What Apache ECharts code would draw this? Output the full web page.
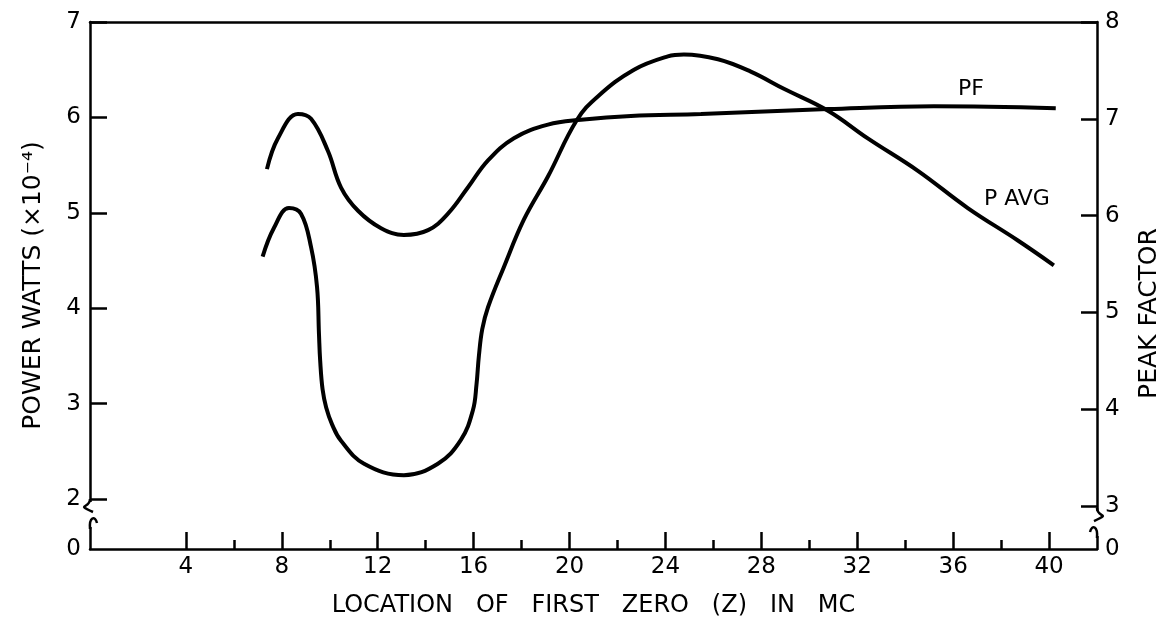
<!DOCTYPE html>
<html>
<head>
<meta charset="utf-8">
<script src="https://cdn.jsdelivr.net/npm/echarts@6/dist/echarts.min.js"></script>
<style>
html,body{margin:0;padding:0;background:#fff;}
#chart{width:1175px;height:623px;}
</style>
</head>
<body>
<div id="chart"></div>
<script>
// ---- data ----
const xMajorTicks = [4, 8, 12, 16, 20, 24, 28, 32, 36, 40];
const xMinorTicks = [6, 10, 14, 18, 22, 26, 30, 34, 38];
const leftTicks = [2, 3, 4, 5, 6, 7];
const rightTicks = [3, 4, 5, 6, 7, 8];
const breakLabel = '0';

const pavgX = [7.2, 7.67, 8.3, 8.8, 9.22, 9.47, 9.55, 9.6, 9.7, 9.85, 10.1, 10.47, 11.43, 13.09, 14.51, 15.47, 15.97, 16.12, 16.22, 16.36, 16.6, 17.26, 18.1, 19.1, 20.3, 21.18, 22.69, 24.1, 24.77, 26.19, 27.56, 28.94, 30.78, 32.44, 34.53, 36.61, 38.7, 40.2];
const pavgY = [4.54, 4.84, 5.05, 4.99, 4.64, 4.22, 3.73, 3.45, 3.15, 2.96, 2.78, 2.61, 2.37, 2.25, 2.37, 2.62, 2.93, 3.20, 3.50, 3.78, 4.01, 4.43, 4.93, 5.38, 5.97, 6.22, 6.50, 6.64, 6.66, 6.61, 6.48, 6.30, 6.07, 5.78, 5.44, 5.05, 4.71, 4.45];

const pfX = [7.38, 7.84, 8.67, 9.22, 9.92, 10.47, 11.18, 12.14, 13.09, 14.1, 14.93, 15.76, 16.6, 17.68, 19.1, 20.48, 22.56, 25.48, 30.78, 35.2, 40.28];
const pfY = [6.48, 6.80, 7.05, 7.00, 6.67, 6.29, 6.05, 5.87, 5.80, 5.85, 6.02, 6.29, 6.57, 6.80, 6.94, 6.99, 7.03, 7.05, 7.10, 7.13, 7.11];

// curve name labels, in data coordinates
const pfLabelAt = [36.74, 7.30];
const pavgLabelAt = [38.66, 5.14];

// axis extents (the lower part of each value axis is a broken "0" region)
const X_MIN = 0, X_MAX = 42;
const LEFT_MIN = 1.476, LEFT_MAX = 7;
const RIGHT_MIN = 2.556, RIGHT_MAX = 8;

// ---- chart ----
const FONT = 'DejaVu Sans';
const BLACK = '#000';
const chart = echarts.init(document.getElementById('chart'), null, {renderer: 'canvas'});

const labelStyle = {color: BLACK, fontFamily: FONT, fontSize: 23};
const lineStyle = {color: BLACK, width: 2.5};

const option = {
  animation: false,
  backgroundColor: '#fff',
  grid: {left: 90, right: 78, top: 22, bottom: 74, containLabel: false},
  xAxis: [
    {
      type: 'value', position: 'bottom', min: X_MIN, max: X_MAX,
      name: 'LOCATION   OF   FIRST   ZERO   (Z)   IN   MC',
      nameLocation: 'middle', nameGap: 45,
      nameTextStyle: {color: BLACK, fontFamily: FONT, fontSize: 24},
      axisLine: {show: true, onZero: false, lineStyle: lineStyle},
      axisTick: {show: true, inside: true, length: 17, lineStyle: lineStyle, customValues: xMajorTicks},
      axisLabel: Object.assign({show: true, margin: 7, customValues: xMajorTicks}, labelStyle),
      splitLine: {show: false}
    },
    {
      type: 'value', position: 'bottom', min: X_MIN, max: X_MAX,
      axisLine: {show: false, onZero: false},
      axisTick: {show: true, inside: true, length: 9, lineStyle: lineStyle, customValues: xMinorTicks},
      axisLabel: {show: false},
      splitLine: {show: false}
    },
    {
      type: 'value', position: 'top', min: X_MIN, max: X_MAX,
      axisLine: {show: true, onZero: false, lineStyle: lineStyle},
      axisTick: {show: false}, axisLabel: {show: false}, splitLine: {show: false}
    }
  ],
  yAxis: [
    {
      type: 'value', position: 'left', min: LEFT_MIN, max: LEFT_MAX,
      name: 'POWER WATTS (×10⁻⁴)',
      nameLocation: 'middle', nameGap: 44, nameRotate: 90,
      nameTextStyle: {color: BLACK, fontFamily: FONT, fontSize: 25},
      axisLine: {show: true, onZero: false, lineStyle: lineStyle},
      axisTick: {show: true, inside: true, length: 17, lineStyle: lineStyle, customValues: leftTicks},
      axisLabel: Object.assign({show: true, margin: 9, customValues: [LEFT_MIN].concat(leftTicks),
        formatter: v => (v < leftTicks[0] ? breakLabel : String(v))}, labelStyle),
      splitLine: {show: false}
    },
    {
      type: 'value', position: 'right', min: RIGHT_MIN, max: RIGHT_MAX,
      name: 'PEAK FACTOR',
      nameLocation: 'middle', nameGap: 40, nameRotate: 90,
      nameTextStyle: {color: BLACK, fontFamily: FONT, fontSize: 25, padding: [0, 56, 0, 0]},
      axisLine: {show: true, onZero: false, lineStyle: lineStyle},
      axisTick: {show: true, inside: true, length: 16, lineStyle: lineStyle, customValues: rightTicks},
      axisLabel: Object.assign({show: true, margin: 8, customValues: [RIGHT_MIN].concat(rightTicks),
        formatter: v => (v < rightTicks[0] ? breakLabel : String(v))}, labelStyle),
      splitLine: {show: false}
    }
  ],
  series: [
    {
      name: 'P AVG', type: 'line', xAxisIndex: 0, yAxisIndex: 0,
      data: pavgX.map((x, i) => [x, pavgY[i]]),
      smooth: 0.4, symbol: 'none', showSymbol: false,
      lineStyle: {color: BLACK, width: 4},
      markPoint: {
        symbol: 'circle', symbolSize: 0, silent: true,
        label: {show: true, position: 'inside', formatter: 'P AVG', color: BLACK, fontFamily: FONT, fontSize: 22},
        data: [{coord: pavgLabelAt}]
      }
    },
    {
      name: 'PF', type: 'line', xAxisIndex: 0, yAxisIndex: 1,
      data: pfX.map((x, i) => [x, pfY[i]]),
      smooth: 0.4, symbol: 'none', showSymbol: false,
      lineStyle: {color: BLACK, width: 4},
      markPoint: {
        symbol: 'circle', symbolSize: 0, silent: true,
        label: {show: true, position: 'inside', formatter: 'PF', color: BLACK, fontFamily: FONT, fontSize: 22},
        data: [{coord: pfLabelAt}]
      }
    }
  ]
};
chart.setOption(option);

// ---- axis-break decorations, placed from the axes' own scales ----
const axL = chart.convertToPixel({xAxisIndex: 0}, X_MIN);
const axR = chart.convertToPixel({xAxisIndex: 0}, X_MAX);
const yL = chart.convertToPixel({yAxisIndex: 0}, leftTicks[0]);
const yR = chart.convertToPixel({yAxisIndex: 1}, rightTicks[0]);
const stroke = {stroke: BLACK, lineWidth: 2.5, fill: null};

function breakMarks(ax, y0, d) {
  // d = +1 for left axis, -1 for right axis (mirrored)
  return [
    {type: 'rect', shape: {x: ax - 4, y: y0 + 3, width: 8, height: 25}, style: {fill: '#fff'}, z: 100},
    {type: 'bezierCurve', shape: {x1: ax, y1: y0, cpx1: ax, cpy1: y0 + 10, cpx2: ax - 15 * d, cpy2: y0 + 5, x2: ax + 3 * d, y2: y0 + 13},
      style: stroke, z: 101},
    {type: 'bezierCurve', shape: {x1: ax + 7 * d, y1: y0 + 24, cpx1: ax + 5 * d, cpy1: y0 + 16, cpx2: ax - 1 * d, cpy2: y0 + 18, x2: ax, y2: y0 + 30},
      style: stroke, z: 101}
  ];
}

chart.setOption({
  graphic: {elements: breakMarks(axL, yL, 1).concat(breakMarks(axR, yR + 2, -1))}
});
</script>
</body>
</html>
